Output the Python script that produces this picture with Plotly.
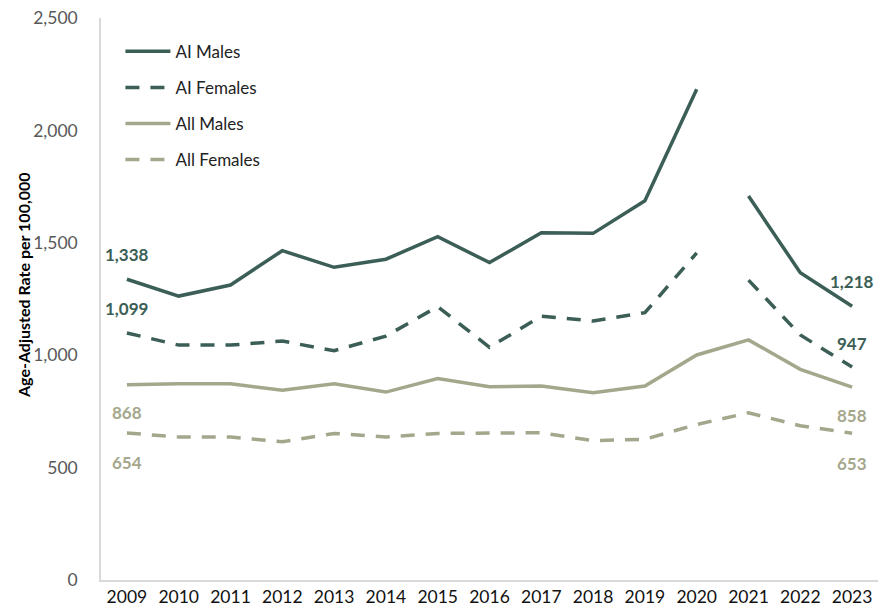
import plotly.graph_objects as go

years = list(range(2009, 2024))
ai_males = [1338, 1263, 1312, 1465, 1391, 1427, 1527, 1412, 1545, 1542, 1687, 2183, 1708, 1367, 1218]
ai_females = [1099, 1045, 1045, 1063, 1020, 1085, 1216, 1035, 1174, 1152, 1189, 1455, 1334, 1090, 947]
all_males = [868, 873, 873, 844, 873, 836, 896, 860, 863, 833, 863, 1001, 1068, 937, 858]
all_females = [654, 636, 636, 615, 652, 636, 652, 652, 655, 620, 626, 692, 744, 686, 653]

series_names = ["AI Males", "AI Females", "All Males", "All Females"]
y_ticks = [0, 500, 1000, 1500, 2000, 2500]
y_title = "Age-Adjusted Rate per 100,000"

DARK = "#3b5e56"
LIGHT = "#a5a78d"
FONT = "Lato"

fig = go.Figure()

def add_series(name, values, color, dash, split):
    segs = [(years[:12], values[:12]), (years[12:], values[12:])] if split else [(years, values)]
    for i, (xs, ys) in enumerate(segs):
        fig.add_trace(go.Scatter(
            x=xs, y=ys, mode="lines", name=name,
            line=dict(color=color, width=3.5, dash=dash),
            showlegend=(i == 0), legendgroup=name,
            hoverinfo="x+y",
        ))

add_series(series_names[0], ai_males, DARK, "solid", True)
add_series(series_names[1], ai_females, DARK, "14px,11px", True)
add_series(series_names[2], all_males, LIGHT, "solid", False)
add_series(series_names[3], all_females, LIGHT, "14px,11px", False)

def label(x, y, color, shift):
    fig.add_annotation(x=x, y=y, xref="x", yref="y", text=f"<b>{y:,}</b>",
                       showarrow=False, yshift=shift,
                       font=dict(family=FONT, size=17, color=color))

for idx in (0, -1):
    label(years[idx], ai_males[idx], DARK, 25)
    label(years[idx], ai_females[idx], DARK, 24)
    label(years[idx], all_males[idx], LIGHT, -28)
    label(years[idx], all_females[idx], LIGHT, -30)

fig.add_annotation(x=-0.099, y=0.525, xref="paper", yref="paper",
                   text=f"<b>{y_title}</b>", textangle=-90, showarrow=False,
                   xanchor="center", yanchor="middle",
                   font=dict(family=FONT, size=16, color="#000000"))

fig.update_layout(
    width=883, height=608,
    margin=dict(l=93, r=13, t=10, b=36),
    paper_bgcolor="white", plot_bgcolor="white",
    font=dict(family=FONT, size=17, color="#000000"),
    showlegend=True,
    legend=dict(x=0.025, y=0.972, xanchor="left", yanchor="top",
                bgcolor="rgba(0,0,0,0)", font=dict(family=FONT, size=17, color="#222222"),
                tracegroupgap=11, traceorder="grouped", itemwidth=45),
    xaxis=dict(
        tickmode="array", tickvals=years, ticktext=[str(y) for y in years],
        range=[years[0] - 0.5, years[-1] + 0.5],
        showgrid=False, zeroline=False, automargin=False,
        showline=True, linecolor="#d9d9d9", linewidth=1.5,
        ticks="", tickfont=dict(family=FONT, size=17.5, color="#111111"),
    ),
    yaxis=dict(
        range=[0, 2500], tickvals=y_ticks, ticktext=[f"{v:,}" for v in y_ticks],
        showgrid=False, zeroline=False, automargin=False,
        showline=True, linecolor="#d9d9d9", linewidth=1.5,
        ticks="", ticklabelstandoff=18, ticklabeloverflow="allow",
        tickfont=dict(family=FONT, size=17.5, color="#595959"),
    ),
)

fig.write_html("out.html")
